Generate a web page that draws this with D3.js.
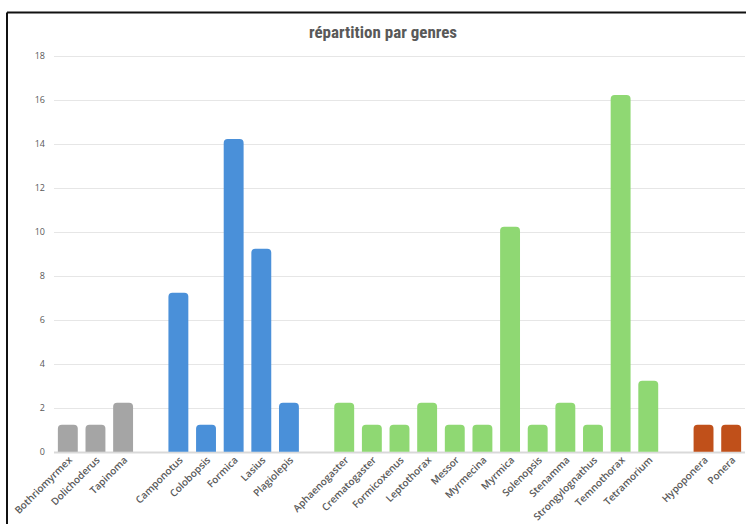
<!DOCTYPE html>
<html>
<head>
<meta charset="utf-8">
<script src="https://cdn.jsdelivr.net/npm/d3@7"></script>
<style>
  body { margin: 0; background: #fff; }
  svg { display: block; }
</style>
</head>
<body>
<div id="chart"></div>
<script>
// genres, grouped by subfamily; "" marks an empty slot between groups
const genres = [
  "Bothriomyrmex", "Dolichoderus", "Tapinoma", "",
  "Camponotus", "Colobopsis", "Formica", "Lasius", "Plagiolepis", "",
  "Aphaenogaster", "Crematogaster", "Formicoxenus", "Leptothorax", "Messor",
  "Myrmecina", "Myrmica", "Solenopsis", "Stenamma", "Strongylognathus",
  "Temnothorax", "Tetramorium", "",
  "Hypoponera", "Ponera"
];
const counts = [
  1, 1, 2, null,
  7, 1, 14, 9, 2, null,
  2, 1, 1, 2, 1, 1, 10, 1, 2, 1, 16, 3, null,
  1, 1
];
const groups = [
  "dol", "dol", "dol", null,
  "for", "for", "for", "for", "for", null,
  "myr", "myr", "myr", "myr", "myr", "myr", "myr", "myr", "myr", "myr", "myr", "myr", null,
  "pon", "pon"
];
const yTicks = [0, 2, 4, 6, 8, 10, 12, 14, 16, 18];

const colors = { dol: "#a5a5a5", for: "#4a90d9", myr: "#8fd873", pon: "#c0501a" };

const width = 746;
const height = 524;
const margin = { top: 56, right: 0, bottom: 72, left: 54 };

const data = genres.map((g, i) => ({ key: i, genre: g, value: counts[i], group: groups[i] }));

const svg = d3.select("#chart")
  .append("svg")
  .attr("width", width)
  .attr("height", height);

// outer frame (left + top only are visible)
svg.append("line")
  .attr("x1", 7).attr("x2", 7).attr("y1", 12.5).attr("y2", height)
  .attr("stroke", "#111").attr("stroke-width", 2);
svg.append("line")
  .attr("x1", 7).attr("x2", width).attr("y1", 12.5).attr("y2", 12.5)
  .attr("stroke", "#111").attr("stroke-width", 2);

svg.append("text")
  .attr("x", 383)
  .attr("y", 38)
  .attr("text-anchor", "middle")
  .attr("font-family", "'Liberation Sans Narrow', 'Roboto Condensed', Roboto, sans-serif")
  .attr("font-weight", "bold")
  .attr("font-size", 17)
  .attr("fill", "#595959")
  .text("répartition par genres");

const xScale = d3.scaleBand()
  .domain(data.map(d => d.key))
  .range([margin.left, 745])
  .paddingInner(0.28)
  .paddingOuter(0.14);

const yScale = d3.scaleLinear()
  .domain([0, 18])
  .range([height - margin.bottom - 0.3, margin.top]);

// gridlines
svg.append("g")
  .selectAll("line")
  .data(yTicks)
  .enter()
  .append("line")
  .attr("x1", margin.left)
  .attr("x2", 745)
  .attr("y1", d => Math.round(yScale(d)) + 0.5)
  .attr("y2", d => Math.round(yScale(d)) + 0.5)
  .attr("stroke", d => d === 0 ? "#d9d9d9" : "#e6e6e6")
  .attr("stroke-width", d => d === 0 ? 2 : 1);

// y tick labels
svg.append("g")
  .selectAll("text")
  .data(yTicks)
  .enter()
  .append("text")
  .attr("x", 45)
  .attr("y", d => yScale(d) + 3)
  .attr("text-anchor", "end")
  .attr("font-family", "'Open Sans', sans-serif")
  .attr("font-size", 9)
  .attr("fill", "#595959")
  .text(d => d);

// bars with a rounded cap sitting on top of the value
const cap = 5;
const r = 4;
const bars = data.filter(d => d.value !== null);
svg.append("g")
  .selectAll("path")
  .data(bars)
  .enter()
  .append("path")
  .attr("d", d => {
    const x0 = xScale(d.key);
    const w = xScale.bandwidth();
    const y0 = yScale(0);
    const y1 = yScale(d.value) - cap;
    return `M${x0},${y0}V${y1 + r}Q${x0},${y1} ${x0 + r},${y1}H${x0 + w - r}Q${x0 + w},${y1} ${x0 + w},${y1 + r}V${y0}Z`;
  })
  .attr("fill", d => colors[d.group]);

// rotated category labels
svg.append("g")
  .selectAll("text")
  .data(bars)
  .enter()
  .append("text")
  .attr("transform", d => `translate(${xScale(d.key) + xScale.bandwidth() / 2 + 5},${yScale(0) + 9}) rotate(-45)`)
  .attr("text-anchor", "end")
  .attr("font-family", "'Open Sans', sans-serif")
  .attr("font-weight", 600)
  .attr("font-size", 10)
  .attr("fill", "#595959")
  .text(d => d.genre);
</script>
</body>
</html>
